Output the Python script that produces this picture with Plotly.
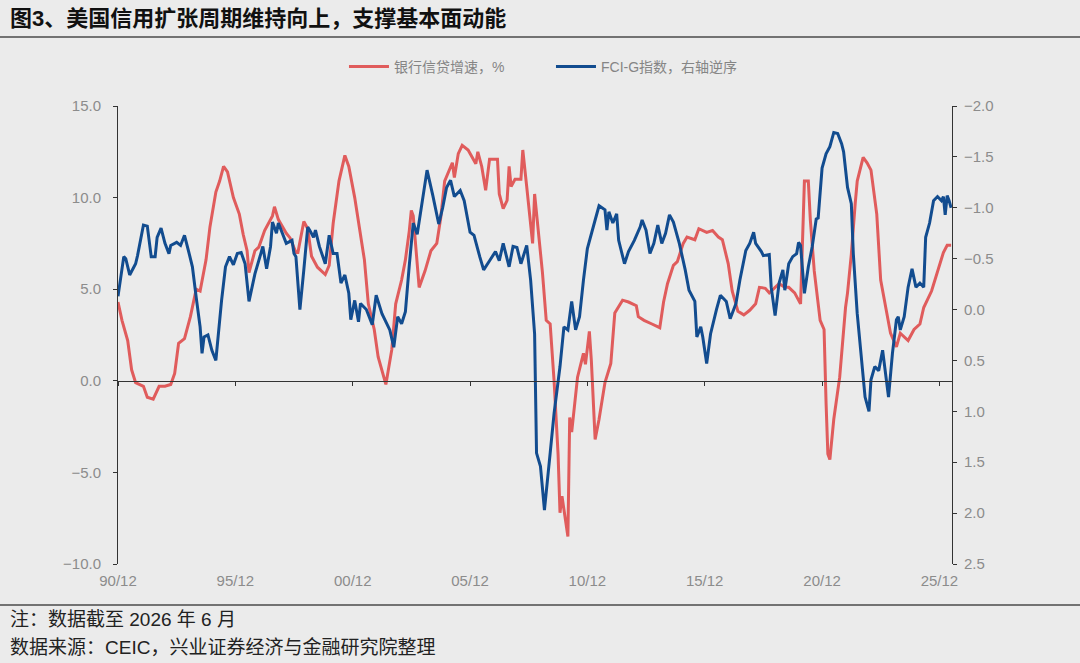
import plotly.graph_objects as go

# ---------------- data ----------------
credit_dates = [
    "1990-12", "1991-02", "1991-05", "1991-07", "1991-09", "1992-01", "1992-03", "1992-06", "1992-09", "1992-12",
    "1993-03", "1993-05", "1993-07", "1993-10", "1994-01", "1994-04", "1994-06", "1994-09", "1994-11", "1995-02",
    "1995-04", "1995-06", "1995-08", "1995-11", "1996-02", "1996-04", "1996-06", "1996-07", "1996-10", "1996-12",
    "1997-03", "1997-07", "1997-08", "1997-10", "1998-02", "1998-04", "1998-07", "1998-08", "1998-11", "1999-01",
    "1999-03", "1999-06", "1999-10", "1999-12", "2000-02", "2000-05", "2000-08", "2000-10", "2001-01", "2001-03",
    "2001-06", "2001-08", "2001-11", "2002-01", "2002-03", "2002-05", "2002-08", "2002-10", "2003-01", "2003-03",
    "2003-05", "2003-06", "2003-07", "2003-10", "2004-01", "2004-04", "2004-07", "2004-09", "2004-11", "2005-03",
    "2005-04", "2005-06", "2005-08", "2005-11", "2006-03", "2006-04", "2006-06", "2006-08", "2006-10", "2007-02",
    "2007-03", "2007-05", "2007-07", "2007-08", "2007-09", "2007-11", "2008-02", "2008-03", "2008-05", "2008-08",
    "2008-09", "2008-11", "2009-01", "2009-03", "2009-05", "2009-07", "2009-09", "2009-10", "2009-11", "2010-02",
    "2010-03", "2010-04", "2010-07", "2010-10", "2010-11", "2011-01", "2011-02", "2011-04", "2011-06", "2011-09",
    "2011-12", "2012-02", "2012-06", "2012-09", "2013-01", "2013-02", "2013-05", "2013-09", "2014-01", "2014-03",
    "2014-05", "2014-08", "2014-10", "2015-01", "2015-03", "2015-07", "2015-09", "2016-01", "2016-04", "2016-07",
    "2016-09", "2016-12", "2017-02", "2017-05", "2017-08", "2017-11", "2018-02", "2018-04", "2018-07", "2018-09",
    "2018-12", "2019-02", "2019-05", "2019-07", "2019-10", "2020-01", "2020-03", "2020-05", "2020-06", "2020-08",
    "2020-11", "2021-01", "2021-02", "2021-03", "2021-04", "2021-06", "2021-09", "2021-12", "2022-01", "2022-03",
    "2022-05", "2022-06", "2022-09", "2022-11", "2023-01", "2023-04", "2023-06", "2023-08", "2023-11", "2024-02",
    "2024-04", "2024-08", "2024-11", "2025-02", "2025-04", "2025-08", "2025-11", "2026-02", "2026-04", "2026-06",
]
credit_values = [
    4.3, 3.3, 2.2, 0.6, -0.1, -0.3, -0.9, -1.0, -0.3, -0.3,
    -0.2, 0.4, 2.05, 2.3, 3.5, 5.0, 4.9, 6.6, 8.4, 10.3,
    10.9, 11.7, 11.4, 10.0, 9.1, 8.0, 7.1, 5.9, 7.1, 7.3,
    8.2, 9.0, 9.5, 8.8, 8.05, 7.8, 7.0, 7.0, 8.7, 8.3,
    6.8, 6.2, 5.8, 6.3, 8.6, 10.9, 12.3, 11.7, 10.0, 8.6,
    6.6, 4.2, 2.8, 1.3, 0.6, -0.2, 1.7, 4.2, 5.5, 6.6,
    8.2, 9.3, 9.0, 5.1, 6.0, 7.1, 7.5, 8.9, 10.9, 11.9,
    11.1, 12.4, 12.85, 12.6, 11.85, 12.5, 11.7, 10.4, 12.1, 12.1,
    10.2, 9.4, 9.85, 11.7, 10.6, 11.0, 11.0, 12.6, 10.6, 7.5,
    10.2, 8.2, 5.9, 3.3, 3.1, 0.0, -4.0, -7.2, -6.3, -8.5,
    -2.0, -2.8, 0.2, 1.5, 0.9, 2.7, 1.1, -3.2, -2.1, -0.1,
    0.95, 3.7, 4.4, 4.3, 4.1, 3.5, 3.3, 3.1, 2.9, 4.3,
    5.3, 6.3, 6.5, 7.5, 7.85, 7.7, 8.3, 8.1, 8.2, 7.85,
    7.7, 6.4, 4.9, 3.8, 3.6, 3.85, 4.2, 5.1, 5.05, 4.8,
    5.1, 5.3, 5.1, 5.1, 4.8, 4.2, 10.9, 10.9, 8.8, 6.0,
    3.3, 2.8, -1.2, -4.0, -4.3, -2.1, 0.2, 4.0, 4.8, 6.9,
    9.7, 10.9, 12.2, 11.9, 11.5, 9.1, 5.5, 4.4, 2.6, 1.85,
    2.6, 2.2, 2.8, 3.1, 4.0, 4.9, 6.0, 7.0, 7.4, 7.4,
]

fci_dates = [
    "1990-12", "1991-03", "1991-04", "1991-06", "1991-09", "1991-10", "1992-01", "1992-03", "1992-05", "1992-07",
    "1992-08", "1992-10", "1992-12", "1993-02", "1993-03", "1993-06", "1993-08", "1993-10", "1993-12", "1994-02",
    "1994-04", "1994-06", "1994-07", "1994-08", "1994-10", "1994-12", "1995-02", "1995-03", "1995-05", "1995-07",
    "1995-09", "1995-11", "1996-01", "1996-03", "1996-05", "1996-07", "1996-10", "1997-01", "1997-02", "1997-04",
    "1997-06", "1997-07", "1997-09", "1997-10", "1997-12", "1998-02", "1998-05", "1998-06", "1998-07", "1998-09",
    "1998-11", "1999-01", "1999-02", "1999-04", "1999-05", "1999-07", "1999-10", "1999-12", "2000-02", "2000-04",
    "2000-06", "2000-08", "2000-10", "2000-11", "2001-01", "2001-03", "2001-04", "2001-07", "2001-10", "2001-12",
    "2002-03", "2002-04", "2002-07", "2002-09", "2002-11", "2003-01", "2003-03", "2003-05", "2003-07", "2003-09",
    "2003-12", "2004-02", "2004-05", "2004-08", "2004-10", "2004-12", "2005-02", "2005-04", "2005-07", "2005-09",
    "2005-12", "2006-02", "2006-05", "2006-07", "2006-10", "2007-01", "2007-03", "2007-05", "2007-08", "2007-10",
    "2007-12", "2008-02", "2008-05", "2008-07", "2008-09", "2008-10", "2008-12", "2009-02", "2009-05", "2009-07",
    "2009-10", "2009-12", "2010-02", "2010-04", "2010-06", "2010-08", "2010-10", "2010-12", "2011-04", "2011-06",
    "2011-09", "2011-10", "2011-11", "2012-01", "2012-03", "2012-04", "2012-07", "2012-09", "2012-12", "2013-03",
    "2013-04", "2013-06", "2013-08", "2013-10", "2013-12", "2014-02", "2014-04", "2014-06", "2014-08", "2014-11",
    "2015-02", "2015-04", "2015-07", "2015-08", "2015-10", "2015-11", "2016-01", "2016-03", "2016-06", "2016-08",
    "2016-11", "2017-01", "2017-04", "2017-06", "2017-09", "2017-11", "2018-01", "2018-02", "2018-05", "2018-06",
    "2018-09", "2018-10", "2018-12", "2019-02", "2019-04", "2019-05", "2019-07", "2019-09", "2019-11", "2019-12",
    "2020-01", "2020-03", "2020-05", "2020-07", "2020-09", "2020-10", "2020-12", "2021-02", "2021-04", "2021-06",
    "2021-08", "2021-10", "2021-11", "2022-01", "2022-03", "2022-04", "2022-06", "2022-09", "2022-10", "2022-12",
    "2023-01", "2023-03", "2023-05", "2023-07", "2023-08", "2023-10", "2023-12", "2024-02", "2024-03", "2024-04",
    "2024-06", "2024-08", "2024-10", "2024-12", "2025-02", "2025-04", "2025-05", "2025-07", "2025-09", "2025-11",
    "2026-01", "2026-02", "2026-03", "2026-04", "2026-05", "2026-06",
]
fci_values = [
    -0.13, -0.52, -0.50, -0.34, -0.45, -0.53, -0.83, -0.82, -0.52, -0.52,
    -0.71, -0.80, -0.65, -0.55, -0.63, -0.66, -0.63, -0.73, -0.58, -0.42,
    -0.12, 0.17, 0.43, 0.27, 0.25, 0.40, 0.50, 0.30, -0.09, -0.42,
    -0.52, -0.44, -0.55, -0.56, -0.45, -0.08, -0.35, -0.55, -0.62, -0.40,
    -0.62, -0.86, -0.75, -0.85, -0.75, -0.65, -0.68, -0.55, -0.52, 0.00,
    -0.39, -0.81, -0.78, -0.71, -0.78, -0.62, -0.45, -0.73, -0.55, -0.55,
    -0.26, -0.34, -0.16, 0.10, -0.09, 0.12, -0.06, 0.00, 0.15, -0.14,
    0.04, 0.08, 0.20, 0.37, 0.07, 0.14, 0.02, -0.44, -0.85, -0.74,
    -1.12, -1.37, -1.12, -0.84, -1.00, -1.20, -1.27, -1.11, -1.17, -1.07,
    -0.76, -0.73, -0.52, -0.39, -0.48, -0.57, -0.48, -0.65, -0.42, -0.62,
    -0.61, -0.45, -0.63, -0.29, 0.24, 1.41, 1.54, 1.97, 1.41, 1.02,
    0.56, 0.17, 0.20, -0.08, 0.20, 0.07, -0.29, -0.60, -0.88, -1.02,
    -0.98, -0.78, -0.96, -0.85, -0.94, -0.68, -0.45, -0.57, -0.68, -0.81,
    -0.88, -0.78, -0.55, -0.65, -0.83, -0.65, -0.75, -0.93, -0.86, -0.65,
    -0.39, -0.19, -0.08, 0.27, 0.17, 0.27, 0.53, 0.24, 0.00, -0.14,
    -0.08, 0.09, -0.06, -0.29, -0.58, -0.65, -0.76, -0.65, -0.57, -0.53,
    -0.54, -0.22, 0.06, -0.26, -0.39, -0.19, -0.45, -0.52, -0.55, -0.66,
    -0.63, -0.16, -0.42, -0.62, -0.89, -0.90, -1.39, -1.53, -1.60, -1.74,
    -1.73, -1.63, -1.55, -1.20, -1.04, -0.55, 0.04, 0.69, 0.86, 1.00,
    0.69, 0.56, 0.60, 0.40, 0.56, 0.86, 0.43, 0.10, 0.07, 0.20,
    0.07, -0.22, -0.40, -0.22, -0.26, -0.22, -0.71, -0.85, -1.07, -1.11,
    -1.07, -1.11, -0.93, -1.12, -1.07, -1.00,
]

tick_dates = ["1990-12", "1995-12", "2000-12", "2005-12", "2010-12", "2015-12", "2020-12", "2025-12"]
tick_labels = ["90/12", "95/12", "00/12", "05/12", "10/12", "15/12", "20/12", "25/12"]

credit_name = "银行信贷增速，%"
fci_name = "FCI-G指数，右轴逆序"
title_text = "图3、美国信用扩张周期维持向上，支撑基本面动能"
note_text = "注：数据截至 2026 年 6 月"
source_text = "数据来源：CEIC，兴业证券经济与金融研究院整理"

# ---------------- figure ----------------
def d(s):
    return s + "-01"

RED = "#E05C5C"
BLUE = "#124C8F"
BG = "#EBEBEB"
AXIS = "#333333"
TICKTXT = "#8C8C8C"
CJK = "Liberation Sans, Noto Sans CJK SC, sans-serif"

W, H = 1080, 663
L, R, T, B = 118, 128, 106, 99
pw, ph = W - L - R, H - T - B

def px(xp):
    return (xp - L) / pw

def py(yp):
    return (H - B - yp) / ph

fig = go.Figure()
fig.add_trace(go.Scatter(
    x=[d(s) for s in credit_dates], y=credit_values, name=credit_name,
    mode="lines", line=dict(color=RED, width=3), yaxis="y", xaxis="x",
))
fig.add_trace(go.Scatter(
    x=[d(s) for s in fci_dates], y=fci_values, name=fci_name,
    mode="lines", line=dict(color=BLUE, width=3), yaxis="y2", xaxis="x",
))
# invisible helper trace so the zero-line axis (x3) is drawn
fig.add_trace(go.Scatter(
    x=[d(s) for s in credit_dates], y=credit_values, mode="lines",
    line=dict(width=0), opacity=0, showlegend=False, hoverinfo="skip",
    xaxis="x3", yaxis="y",
))

xrange = ["1990-12-01", "2026-06-15"]

fig.update_layout(
    width=W, height=H,
    margin=dict(l=L, r=R, t=T, b=B),
    paper_bgcolor=BG, plot_bgcolor=BG,
    font=dict(family=CJK, color=TICKTXT, size=14),
    showlegend=True,
    legend=dict(
        orientation="h", xref="container", yref="container",
        x=0.3185, y=1 - 67 / H, xanchor="left", yanchor="middle",
        font=dict(size=14, color="#858585", family=CJK),
        bgcolor="rgba(0,0,0,0)", itemwidth=40, traceorder="normal",
        entrywidth=152,
    ),
    xaxis=dict(
        type="date", range=xrange, tickvals=[d(s) for s in tick_dates], ticktext=tick_labels,
        showgrid=False, zeroline=False, showline=False, ticks="",
        ticklabelstandoff=6,
        tickfont=dict(size=15, color=TICKTXT, family="Liberation Sans"),
    ),
    xaxis3=dict(
        type="date", range=xrange, overlaying="x", anchor="free", position=0.4, side="bottom",
        tickvals=[d(s) for s in tick_dates], showticklabels=False,
        showgrid=False, zeroline=False, showline=True, linecolor=AXIS, linewidth=1,
        ticks="outside", ticklen=4, tickcolor=AXIS, tickwidth=1,
    ),
    yaxis=dict(
        range=[-10, 15], dtick=5, tick0=0, tickformat=".1f",
        showgrid=False, zeroline=False, showline=True, linecolor=AXIS, linewidth=1,
        ticks="outside", ticklen=4, tickcolor=AXIS, ticklabelstandoff=9,
        tickfont=dict(size=15, color=TICKTXT, family="Liberation Sans"),
    ),
    yaxis2=dict(
        range=[2.5, -2.0], dtick=0.5, tick0=0, tickformat=".1f", overlaying="y", side="right",
        showgrid=False, zeroline=False, showline=True, linecolor=AXIS, linewidth=1,
        ticks="outside", ticklen=4, tickcolor=AXIS, ticklabelstandoff=4,
        tickfont=dict(size=15, color=TICKTXT, family="Liberation Sans"),
    ),
)

# title, separators and footer
fig.add_annotation(
    text="<b>" + title_text + "</b>", xref="paper", yref="paper",
    x=px(8), y=py(19), xanchor="left", yanchor="middle", showarrow=False,
    font=dict(size=22, color="#111111", family="Liberation Sans, Noto Sans CJK SC"),
)
fig.add_annotation(
    text=note_text, xref="paper", yref="paper",
    x=px(8), y=py(619), xanchor="left", yanchor="middle", showarrow=False,
    font=dict(size=19, color="#222222", family="Liberation Sans, Noto Sans CJK SC"),
)
fig.add_annotation(
    text=source_text, xref="paper", yref="paper",
    x=px(8), y=py(647), xanchor="left", yanchor="middle", showarrow=False,
    font=dict(size=19, color="#222222", family="Liberation Sans, Noto Sans CJK SC"),
)
for yline in (37, 605):
    fig.add_shape(
        type="line", xref="paper", yref="paper",
        x0=px(0), x1=px(W), y0=py(yline), y1=py(yline),
        line=dict(color="#4A4A4A", width=1.5),
    )

fig.write_html(
    "out.html",
    config={"displayModeBar": False},
    post_script="document.body.style.margin='0';document.body.style.background='#EBEBEB';",
)
